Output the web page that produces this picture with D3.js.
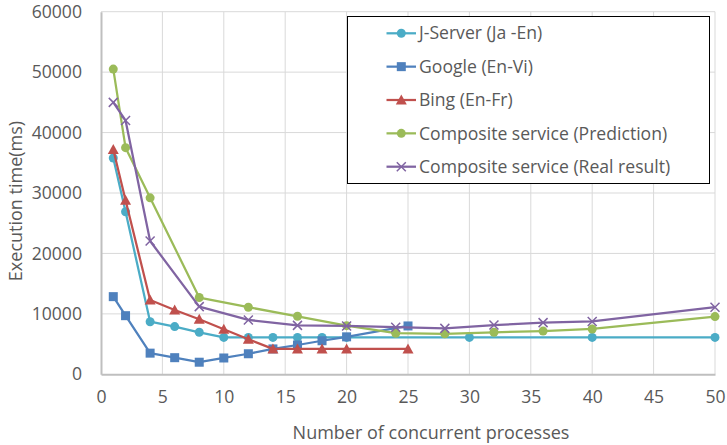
<!DOCTYPE html>
<html><head><meta charset="utf-8">
<script src="https://cdn.jsdelivr.net/npm/d3@7"></script>
<style>body{margin:0;background:#fff}svg{display:block}text{font-family:"Open Sans","Noto Sans",sans-serif;fill:#595959}</style>
</head><body>
<svg id="c" width="727" height="445"></svg>
<script>
const xTicks = [0,5,10,15,20,25,30,35,40,45,50];
const yTicks = [0,10000,20000,30000,40000,50000,60000];
const jserverX = [1,2,4,6,8,10,12,14,16,18,20,30,40,50];
const jserverY = [35800,26900,8700,7900,6950,6100,6100,6100,6100,6100,6100,6100,6100,6100];
const googleX = [1,2,4,6,8,10,12,14,16,18,20,25];
const googleY = [12850,9700,3500,2750,2000,2700,3400,4200,4850,5550,6200,8000];
const bingX = [1,2,4,6,8,10,12,14,16,18,20,25];
const bingY = [37200,28800,12300,10650,9100,7450,5800,4200,4200,4200,4200,4200];
const predX = [1,2,4,8,12,16,20,24,28,32,36,40,50];
const predY = [50500,37500,29200,12700,11100,9600,8050,6800,6700,6950,7150,7500,9550];
const realX = [1,2,4,8,12,16,20,24,28,32,36,40,50];
const realY = [45000,42000,22050,11200,9000,8100,8000,7800,7600,8150,8550,8750,11100];
const seriesNames = ["J-Server (Ja -En)","Google (En-Vi)","Bing (En-Fr)","Composite service (Prediction)","Composite service (Real result)"];

const series = [
  {name:seriesNames[0], xs:jserverX, ys:jserverY, color:"#4BACC6", marker:"circle"},
  {name:seriesNames[1], xs:googleX, ys:googleY, color:"#4F81BD", marker:"square"},
  {name:seriesNames[2], xs:bingX, ys:bingY, color:"#C0504D", marker:"triangle"},
  {name:seriesNames[3], xs:predX, ys:predY, color:"#9BBB59", marker:"circle"},
  {name:seriesNames[4], xs:realX, ys:realY, color:"#8064A2", marker:"x"}
];

const FS = "17.6px";
const svg = d3.select("#c");
const L=101, R=715, T=11.7, B=374.3;
const x = d3.scaleLinear().domain([0,50]).range([L,R]);
const y = d3.scaleLinear().domain([0,60000]).range([B,T]);

// gridlines
svg.append("g").selectAll("line").data(xTicks.slice(1)).join("line")
  .attr("x1",d=>x(d)).attr("x2",d=>x(d)).attr("y1",T).attr("y2",B)
  .attr("stroke","#D9D9D9").attr("stroke-width",1);
svg.append("g").selectAll("line").data(yTicks.slice(1)).join("line")
  .attr("x1",L).attr("x2",R).attr("y1",d=>y(d)).attr("y2",d=>y(d))
  .attr("stroke","#D9D9D9").attr("stroke-width",1);

// axes
const xa = svg.append("g").attr("transform",`translate(0,${B})`)
  .call(d3.axisBottom(x).tickValues(xTicks).tickFormat(d3.format("d")).tickSize(0).tickPadding(16));
xa.select(".domain").attr("stroke","#BFBFBF").attr("stroke-width",2);
xa.selectAll("text").attr("font-size",FS).style("fill","#595959");
const ya = svg.append("g").attr("transform",`translate(${L},0)`)
  .call(d3.axisLeft(y).tickValues(yTicks).tickFormat(d3.format("d")).tickSize(0).tickPadding(19));
ya.select(".domain").attr("stroke","#BFBFBF").attr("stroke-width",2);
ya.selectAll("text").attr("font-size",FS).style("fill","#595959");

svg.append("text").attr("x",431).attr("y",438.5).attr("text-anchor","middle")
  .attr("font-size","18px").text("Number of concurrent processes");
svg.append("text").attr("transform",`translate(21.5,201) rotate(-90)`).attr("text-anchor","middle")
  .attr("font-size","18px").text("Execution time(ms)");

function drawMarker(g, type, color, cx, cy){
  if(type==="circle") g.append("circle").attr("cx",cx).attr("cy",cy).attr("r",4.5).attr("fill",color);
  else if(type==="square") g.append("rect").attr("x",cx-4.5).attr("y",cy-4.5).attr("width",9).attr("height",9).attr("fill",color);
  else if(type==="triangle") g.append("path").attr("d",`M${cx},${cy-5.5}L${cx+5.5},${cy+4.5}L${cx-5.5},${cy+4.5}Z`).attr("fill",color);
  else if(type==="x") g.append("path").attr("d",`M${cx-4.5},${cy-4.5}L${cx+4.5},${cy+4.5}M${cx+4.5},${cy-4.5}L${cx-4.5},${cy+4.5}`).attr("stroke",color).attr("stroke-width",1.5).attr("fill","none");
}

const line = d3.line().x(d=>x(d[0])).y(d=>y(d[1]));
series.forEach(s=>{
  const pts = s.xs.map((v,i)=>[v,s.ys[i]]);
  const g = svg.append("g");
  g.append("path").attr("d",line(pts)).attr("fill","none").attr("stroke",s.color).attr("stroke-width",2.25).attr("stroke-linejoin","round");
  pts.forEach(p=>drawMarker(g,s.marker,s.color,x(p[0]),y(p[1])));
});

// legend
const lg = svg.append("g");
lg.append("rect").attr("x",347.5).attr("y",16.5).attr("width",362).attr("height",167)
  .attr("fill","#fff").attr("stroke","#000").attr("stroke-width",1);
series.forEach((s,i)=>{
  const cy = 33.3 + i*33.35;
  lg.append("line").attr("x1",386.5).attr("x2",416).attr("y1",cy).attr("y2",cy).attr("stroke",s.color).attr("stroke-width",2.25);
  drawMarker(lg,s.marker,s.color,401.3,cy);
  lg.append("text").attr("x",419).attr("y",cy).attr("dy","0.35em").attr("font-size",FS).text(s.name);
});
</script>
</body></html>
